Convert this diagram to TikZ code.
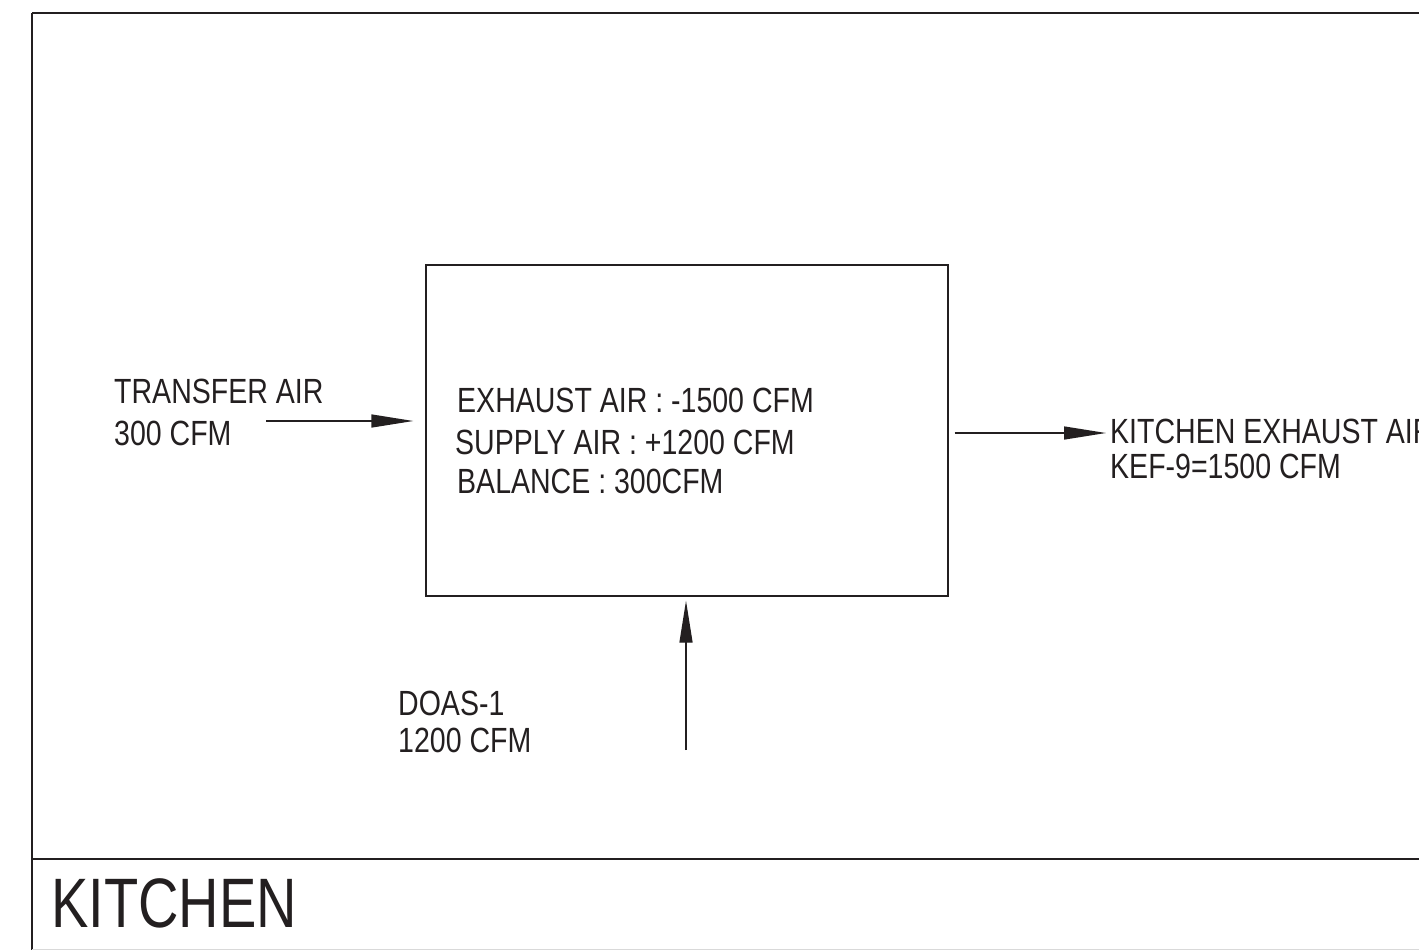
\documentclass[tikz,border=0pt]{standalone}
\usepackage{fontspec}
\setmainfont{Liberation Sans}[FakeStretch=0.8]
\newfontfamily\lblfont{Liberation Sans}[FakeStretch=0.815]
\usetikzlibrary{arrows.meta}
\definecolor{ink}{HTML}{231F20}
\begin{document}
\begin{tikzpicture}[x=1pt,y=-1pt,
  lbl/.style={anchor=base west,inner sep=0pt,text=ink,font=\lblfont\fontsize{35}{40}\selectfont},
  title/.style={anchor=base west,inner sep=0pt,text=ink,font=\fontsize{70}{80}\selectfont},
  flow/.style={draw=ink,line width=1.4pt,-{Triangle[length=42pt,width=13pt]}},
  roombox/.style={draw=ink,line width=1.4pt,rectangle,inner sep=0pt,minimum width=522pt,minimum height=331pt}]
\useasboundingbox (0,0) rectangle (1419,950);
\begin{scope}
\clip (0,0) rectangle (1419,950);
\draw[ink,line width=2pt] (32,13) -- (1440,13);
\draw[ink,line width=2pt] (32,13) -- (32,960);
\draw[ink,line width=2pt] (32,859) -- (1440,859);
\draw[black!15,line width=1.5pt] (32,949.5) -- (1440,949.5);
\end{scope}
% room box
\node[roombox] (box) at (687,430.5) {};
% texts inside box
\node[lbl] (ex) at (457,412) {EXHAUST AIR : -1500 CFM};
\node[lbl] (su) at (455,454) {SUPPLY AIR : +1200 CFM};
\node[lbl] (ba) at (457,493) {BALANCE : 300CFM};
% transfer air
\node[lbl] (tr1) at (114,403) {TRANSFER AIR};
\node[lbl] (tr2) at (114,445) {300 CFM};
\coordinate (tstart) at (266,421);
\draw[flow] (tstart) -- ([xshift=-12pt]box.west |- tstart);
% kitchen exhaust
\node[lbl] (ke1) at (1110,443) {KITCHEN EXHAUST AIR};
\node[lbl] (ke2) at (1110,478) {KEF-9=1500 CFM};
\coordinate (kend) at (1106,433);
\draw[flow] ([xshift=6pt]box.east |- kend) -- (kend);
% doas
\node[lbl] (do1) at (398,715) {DOAS-1};
\node[lbl] (do2) at (398,752) {1200 CFM};
\coordinate (dstart) at (686,750);
\draw[flow] (dstart) -- ([yshift=-4pt]box.south -| dstart);
% title
\node[title] (kt) at (51,927) {KITCHEN};
\end{tikzpicture}
\end{document}
